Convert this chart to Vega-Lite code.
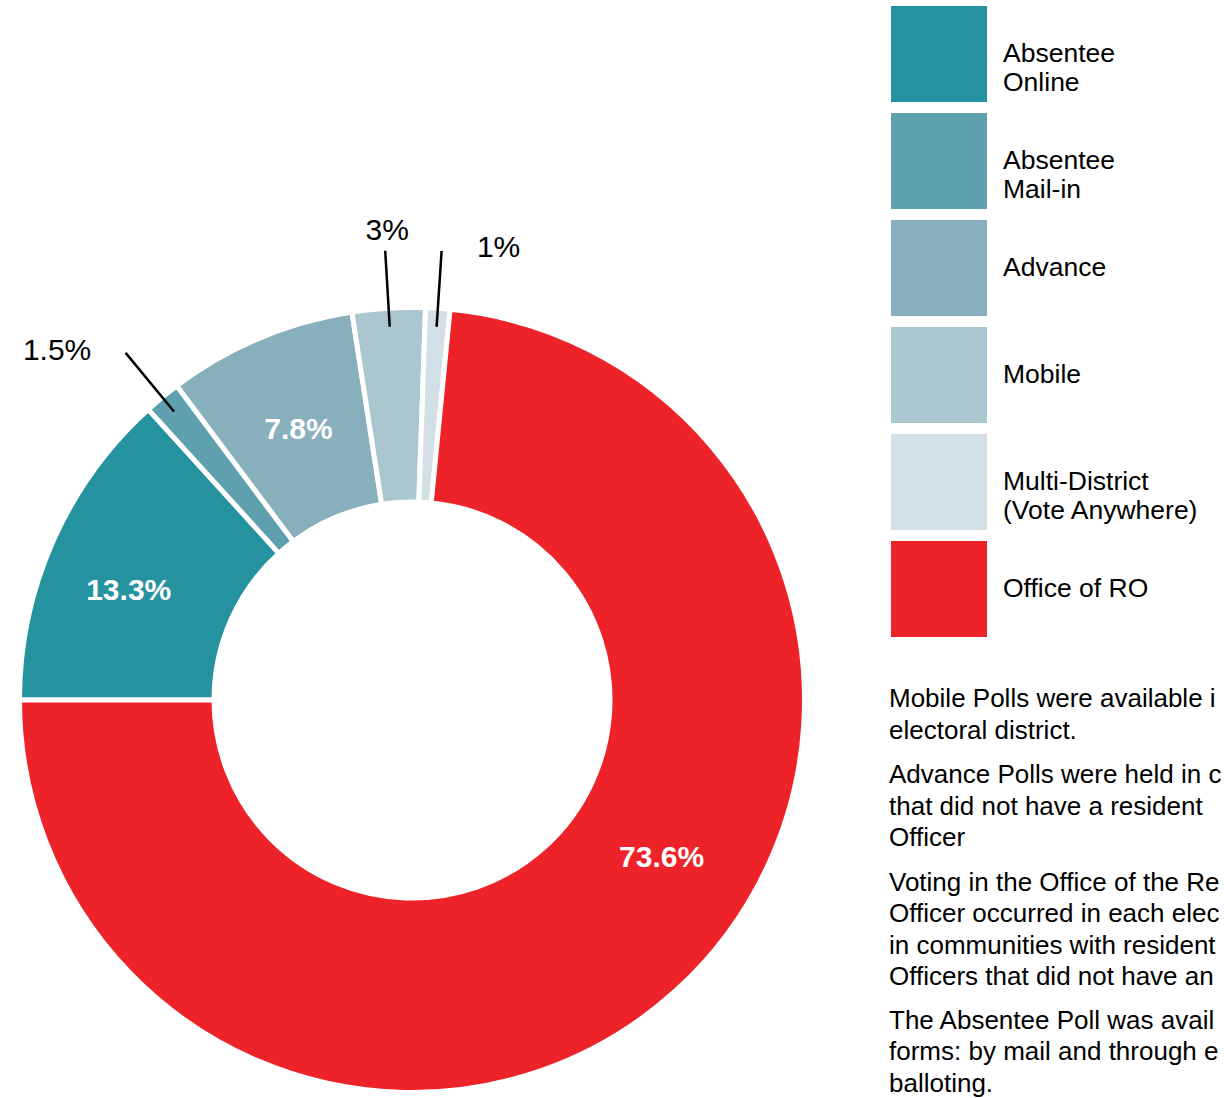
{
  "$schema": "https://vega.github.io/schema/vega-lite/v6.json",
  "padding": 0,
  "background": "white",
  "config": {
    "view": {"stroke": null},
    "font": "Liberation Sans",
    "style": {"guide-label": {"lineHeight": 29}}
  },
  "datasets": {
    "votes": [
      {"category": "Absentee Online", "value": 13.3, "label": "13.3%", "order": 1},
      {"category": "Absentee Mail-in", "value": 1.5, "label": "1.5%", "order": 2},
      {"category": "Advance", "value": 7.8, "label": "7.8%", "order": 3},
      {"category": "Mobile", "value": 3, "label": "3%", "order": 4},
      {"category": "Multi-District (Vote Anywhere)", "value": 1, "label": "1%", "order": 5},
      {"category": "Office of RO", "value": 73.6, "label": "73.6%", "order": 6}
    ]
  },
  "spacing": 0,
  "bounds": "flush",
  "resolve": {"scale": {"color": "independent", "theta": "independent"}, "legend": {"color": "independent"}},
  "vconcat": [
    {
      "width": 824,
      "height": 302,
      "data": {"values": [{}]},
      "mark": {"type": "text"},
      "encoding": {"text": {"value": ""}}
    },
    {
      "spacing": 65,
      "bounds": "flush",
      "resolve": {"scale": {"color": "independent", "theta": "independent"}, "legend": {"color": "independent"}},
      "hconcat": [
        {
          "width": 824,
          "height": 796,
          "data": {"name": "votes"},
          "encoding": {
            "theta": {"field": "value", "type": "quantitative", "stack": true, "scale": {"range": [-1.5707963, 4.712389]}},
            "order": {"field": "order", "type": "quantitative"}
          },
          "layer": [
            {
              "mark": {"type": "arc", "innerRadius": 198, "outerRadius": 392.5, "stroke": "white", "strokeWidth": 5},
              "encoding": {
                "color": {
                  "field": "category",
                  "type": "nominal",
                  "scale": {
                    "domain": ["Absentee Online", "Absentee Mail-in", "Advance", "Mobile", "Multi-District (Vote Anywhere)", "Office of RO"],
                    "range": ["#2592a0", "#5ea0ae", "#87afbc", "#aac6cf", "#d2e0e5", "#ee2229"]
                  },
                  "legend": {
                    "title": null,
                    "orient": "none",
                    "legendX": 891,
                    "legendY": -296,
                    "padding": 0,
                    "symbolType": "square",
                    "symbolSize": 9216,
                    "symbolStrokeWidth": 0,
                    "symbolOpacity": 1,
                    "labelFont": "Liberation Sans",
                    "labelFontSize": 26.5,
                    "labelColor": "black",
                    "labelOffset": 16,
                    "labelLimit": 320,
                    "rowPadding": 11,
                    "labelExpr": "datum.label === 'Absentee Online' ? ['Absentee', 'Online'] : datum.label === 'Absentee Mail-in' ? ['Absentee', 'Mail-in'] : datum.label === 'Multi-District (Vote Anywhere)' ? ['Multi-District', '(Vote Anywhere)'] : datum.label"
                  }
                }
              }
            },
            {
              "mark": {"type": "arc", "innerRadius": 374, "outerRadius": 450, "padAngle": 2, "fill": "transparent", "stroke": "black", "strokeWidth": 2.5},
              "encoding": {
                "strokeOpacity": {"condition": {"test": "datum.value < 5", "value": 1}, "value": 0}
              }
            },
            {
              "mark": {"type": "text", "radius": 300, "fontSize": 30, "fontWeight": "bold", "fill": "white", "align": "center", "baseline": "middle", "dx": -9, "dy": 13},
              "encoding": {
                "text": {"condition": {"test": "datum.category === 'Absentee Online'", "field": "label", "type": "nominal"}, "value": ""}
              }
            },
            {
              "mark": {"type": "text", "radius": 293, "fontSize": 30, "fontWeight": "bold", "fill": "white", "align": "center", "baseline": "middle"},
              "encoding": {
                "text": {"condition": {"test": "datum.category === 'Advance'", "field": "label", "type": "nominal"}, "value": ""}
              }
            },
            {
              "mark": {"type": "text", "radius": 300, "fontSize": 30, "fontWeight": "bold", "fill": "white", "align": "center", "baseline": "middle", "dx": 48, "dy": -64},
              "encoding": {
                "text": {"condition": {"test": "datum.category === 'Office of RO'", "field": "label", "type": "nominal"}, "value": ""}
              }
            },
            {
              "mark": {"type": "text", "radius": 400, "fontSize": 30, "fill": "black", "align": "center", "baseline": "middle", "dx": -1, "dy": -70},
              "encoding": {
                "text": {"condition": {"test": "datum.category === 'Mobile'", "field": "label", "type": "nominal"}, "value": ""}
              }
            },
            {
              "mark": {"type": "text", "radius": 450, "fontSize": 30, "fill": "black", "align": "center", "baseline": "middle", "dx": 57, "dy": -3},
              "encoding": {
                "text": {"condition": {"test": "datum.category === 'Multi-District (Vote Anywhere)'", "field": "label", "type": "nominal"}, "value": ""}
              }
            },
            {
              "mark": {"type": "text", "radius": 190, "fontSize": 30, "fill": "black", "align": "center", "baseline": "middle", "dx": -234, "dy": -202},
              "encoding": {
                "text": {"condition": {"test": "datum.category === 'Absentee Mail-in'", "field": "label", "type": "nominal"}, "value": ""}
              }
            }
          ]
        },
        {
          "spacing": 0,
          "bounds": "flush",
          "vconcat": [
            {
              "width": 335,
              "height": 364.5,
              "data": {"values": [{}]},
              "mark": {"type": "text"},
              "encoding": {"text": {"value": ""}}
            },
            {
              "width": 335,
              "height": 64,
              "data": {"values": [{"lines": ["Mobile Polls were available in each", "electoral district."]}]},
              "mark": {"type": "text", "align": "left", "baseline": "middle", "fontSize": 26, "lineHeight": 31.6, "limit": 335, "ellipsis": "\u200b", "fill": "black"},
              "encoding": {
                "text": {"field": "lines", "type": "nominal"},
                "x": {"datum": 0, "type": "quantitative", "scale": {"domain": [0, 1]}, "axis": null}
              }
            },
            {
              "width": 335,
              "height": 88,
              "data": {"values": [{"lines": ["Advance Polls were held in communities", "that did not have a resident Returning", "Officer"]}]},
              "mark": {"type": "text", "align": "left", "baseline": "middle", "fontSize": 26, "lineHeight": 31.6, "limit": 335, "ellipsis": "\u200b", "fill": "black"},
              "encoding": {
                "text": {"field": "lines", "type": "nominal"},
                "x": {"datum": 0, "type": "quantitative", "scale": {"domain": [0, 1]}, "axis": null}
              }
            },
            {
              "width": 335,
              "height": 127,
              "data": {"values": [{"lines": ["Voting in the Office of the Returning", "Officer occurred in each electoral district", "in communities with resident Returning", "Officers that did not have an Advance Poll."]}]},
              "mark": {"type": "text", "align": "left", "baseline": "middle", "fontSize": 26, "lineHeight": 31.6, "limit": 335, "ellipsis": "\u200b", "fill": "black"},
              "encoding": {
                "text": {"field": "lines", "type": "nominal"},
                "x": {"datum": 0, "type": "quantitative", "scale": {"domain": [0, 1]}, "axis": null}
              }
            },
            {
              "width": 335,
              "height": 149,
              "data": {"values": [{"lines": ["The Absentee Poll was available in two", "forms: by mail and through electronic", "balloting."]}]},
              "mark": {"type": "text", "align": "left", "baseline": "middle", "fontSize": 26, "lineHeight": 31.6, "limit": 335, "ellipsis": "\u200b", "fill": "black"},
              "encoding": {
                "text": {"field": "lines", "type": "nominal"},
                "x": {"datum": 0, "type": "quantitative", "scale": {"domain": [0, 1]}, "axis": null}
              }
            }
          ]
        }
      ]
    }
  ]
}
